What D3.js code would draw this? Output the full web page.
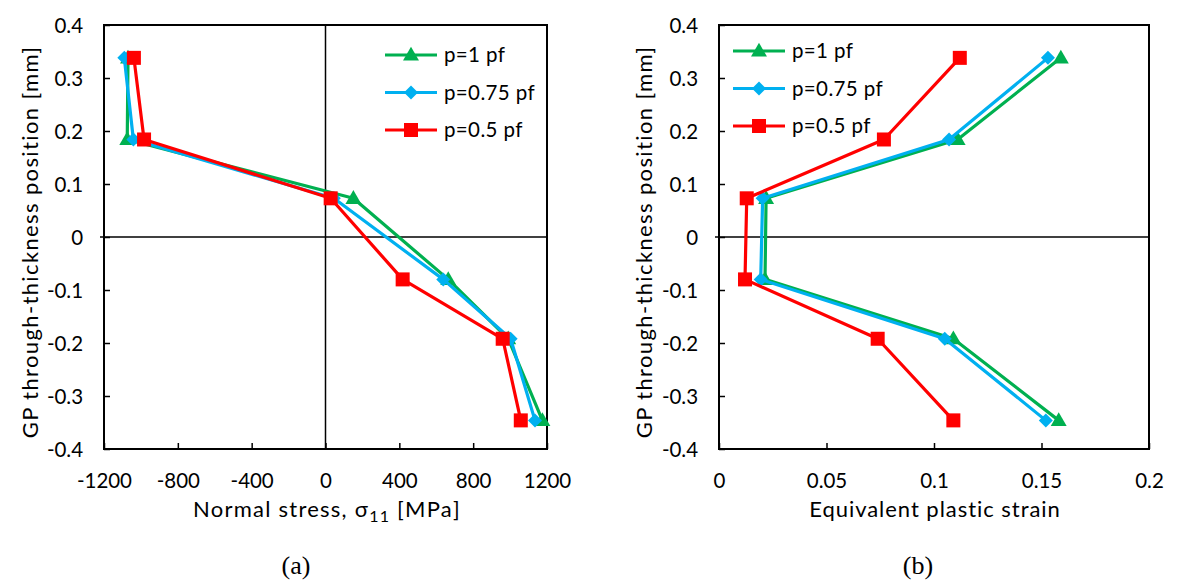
<!DOCTYPE html>
<html><head><meta charset="utf-8">
<script src="https://cdn.jsdelivr.net/npm/d3@7"></script>
<style>
html,body{margin:0;padding:0;background:#fff;}
svg{display:block;}
text{font-family:Lato, "Open Sans", sans-serif;fill:#000;}
</style></head>
<body>
<svg id="chart" width="1189" height="581"></svg>
<script>
// ---- data ----
const seriesNames = ["p=1 pf", "p=0.75 pf", "p=0.5 pf"];
const positions = [0.338, 0.184, 0.073, -0.080, -0.192, -0.346];
// (a) normal stress sigma11 [MPa]
const stressP1   = [-1070, -1074, 151, 665, 990, 1175];
const stressP075 = [-1090, -1041, 45, 638, 1003, 1135];
const stressP05  = [-1038, -983, 28, 418, 960, 1058];
// (b) equivalent plastic strain
const strainP1   = [0.159, 0.111, 0.0219, 0.0214, 0.109, 0.158];
const strainP075 = [0.153, 0.107, 0.0203, 0.0194, 0.105, 0.152];
const strainP05  = [0.112, 0.0767, 0.0129, 0.0121, 0.0738, 0.109];
// ticks
const yTicks = [0.4, 0.3, 0.2, 0.1, 0, -0.1, -0.2, -0.3, -0.4];
const yTickLabels = ["0.4","0.3","0.2","0.1","0","-0.1","-0.2","-0.3","-0.4"];
const xTicksA = [-1200, -800, -400, 0, 400, 800, 1200];
const xTickLabelsA = ["-1200","-800","-400","0","400","800","1200"];
const xTicksB = [0, 0.05, 0.1, 0.15, 0.2];
const xTickLabelsB = ["0","0.05","0.1","0.15","0.2"];

const colors = ["#00B050", "#00B0F0", "#FF0000"];
const markers = ["triangle", "diamond", "square"];
const FS_TICK = 20.5, FS_LEG = 20.5, FS_TITLE = 22;

const svg = d3.select("#chart");

// letter-spacing so that a text reaches a target width
function spacingFor(str, size, target) {
  const t = svg.append("text").style("font-size", size + "px").text(str);
  const w = t.node().getComputedTextLength();
  t.remove();
  return (target - w) / str.length;
}
const tickLS = spacingFor("-1200", FS_TICK, 55);
const legendLS = spacingFor("p=0.75 pf", FS_LEG, 91);

function spaceTo(sel, target) {
  const w = sel.node().getComputedTextLength();
  const n = sel.text().length;
  sel.style("letter-spacing", ((target - w) / n) + "px");
}

function marker(g, type, color, x, y) {
  if (type === "triangle") {
    g.append("path").attr("d", d3.symbol(d3.symbolTriangle, 110)())
      .attr("transform", `translate(${x},${y + 1})`).attr("fill", color);
  } else if (type === "diamond") {
    const s = 7;
    g.append("path").attr("d", `M0,${-s}L${s},0L0,${s}L${-s},0Z`)
      .attr("transform", `translate(${x},${y})`).attr("fill", color);
  } else {
    g.append("rect").attr("x", x - 7).attr("y", y - 7).attr("width", 14).attr("height", 14).attr("fill", color);
  }
}

function panel(opts) {
  const x = d3.scaleLinear().domain(opts.xDomain).range(opts.xRange);
  const y = d3.scaleLinear().domain([-0.4, 0.4]).range([449, 25]);
  const g = svg.append("g");
  const [x0, x1] = opts.xRange;

  // zero lines
  g.append("line").attr("x1", x0 - 4).attr("x2", x1).attr("y1", y(0)).attr("y2", y(0))
    .attr("stroke", "#000").attr("stroke-width", 1.5);
  if (opts.xDomain[0] < 0) {
    g.append("line").attr("x1", x(0)).attr("x2", x(0)).attr("y1", 25).attr("y2", 449)
      .attr("stroke", "#000").attr("stroke-width", 1.5);
  }

  // axes (ticks inside)
  const yAxis = d3.axisLeft(y).tickValues(yTicks).tickSize(-6).tickPadding(21)
    .tickFormat((d, i) => yTickLabels[i]);
  const ya = g.append("g").attr("transform", `translate(${x0},0)`).call(yAxis);
  const xAxis = d3.axisBottom(x).tickValues(opts.xTicks).tickSize(-6).tickPadding(39)
    .tickFormat((d, i) => opts.xTickLabels[i]);
  const xa = g.append("g").attr("transform", `translate(0,449)`).call(xAxis);
  [ya, xa].forEach(a => {
    a.select(".domain").remove();
    a.selectAll(".tick line").attr("stroke", "#000").attr("stroke-width", 1.5);
    a.selectAll(".tick text").style("font-size", FS_TICK + "px").style("font-family", "Lato, sans-serif")
      .style("letter-spacing", tickLS + "px");
  });
  ya.selectAll(".tick text").attr("dy", "0.36em");
  xa.selectAll(".tick text").attr("dy", 0).attr("dx", tickLS / 2);

  // frame
  g.append("rect").attr("x", x0).attr("y", 25).attr("width", x1 - x0).attr("height", 424)
    .attr("fill", "none").attr("stroke", "#000").attr("stroke-width", 2);

  // series
  const line = d3.line().x(d => x(d[0])).y(d => y(d[1]));
  opts.series.forEach((vals, si) => {
    const pts = vals.map((v, i) => [v, positions[i]]);
    g.append("path").attr("d", line(pts)).attr("fill", "none")
      .attr("stroke", colors[si]).attr("stroke-width", 3.2).attr("stroke-linejoin", "round");
    pts.forEach(p => marker(g, markers[si], colors[si], x(p[0]), y(p[1])));
  });

  // legend
  seriesNames.forEach((name, i) => {
    const ly = opts.legendY + i * 37.5;
    g.append("line").attr("x1", opts.legendX).attr("x2", opts.legendX + 52)
      .attr("y1", ly).attr("y2", ly).attr("stroke", colors[i]).attr("stroke-width", 3.2);
    marker(g, markers[i], colors[i], opts.legendX + 26, ly);
    g.append("text").attr("x", opts.legendX + 59).attr("y", ly).attr("dy", "0.35em")
      .style("font-size", FS_LEG + "px").style("letter-spacing", legendLS + "px").text(name);
  });

  // axis titles
  const yt = g.append("text").attr("transform", `translate(${opts.yTitleX},242) rotate(-90)`)
    .attr("text-anchor", "middle").style("font-size", FS_TITLE + "px").text("GP through-thickness position [mm]");
  spaceTo(yt, 393);
  const xt = g.append("text").attr("x", opts.xTitleCx).attr("y", 517)
    .attr("text-anchor", "middle").style("font-size", FS_TITLE + "px");
  opts.xTitle(xt);
  spaceTo(xt, opts.xTitleW);

  svg.append("text").attr("x", opts.captionX).attr("y", 574).attr("text-anchor", "middle")
    .style("font-family", "'Liberation Serif', serif").style("font-size", "26px").text(opts.caption);
}

panel({
  xDomain: [-1200, 1200], xRange: [104, 547],
  xTicks: xTicksA, xTickLabels: xTickLabelsA,
  series: [stressP1, stressP075, stressP05],
  legendX: 385, legendY: 55, yTitleX: 38,
  xTitle: t => {
    t.append("tspan").text("Normal stress, σ");
    t.append("tspan").attr("dy", 5).style("font-size", "16px").text("11");
    t.append("tspan").attr("dy", -5).text(" [MPa]");
  },
  xTitleCx: 327, xTitleW: 268,
  captionX: 296, caption: "(a)"
});

panel({
  xDomain: [0, 0.2], xRange: [719, 1149],
  xTicks: xTicksB, xTickLabels: xTickLabelsB,
  series: [strainP1, strainP075, strainP05],
  legendX: 733, legendY: 51, yTitleX: 652,
  xTitle: t => t.text("Equivalent plastic strain"),
  xTitleCx: 935, xTitleW: 252,
  captionX: 918, caption: "(b)"
});
</script>
</body></html>
